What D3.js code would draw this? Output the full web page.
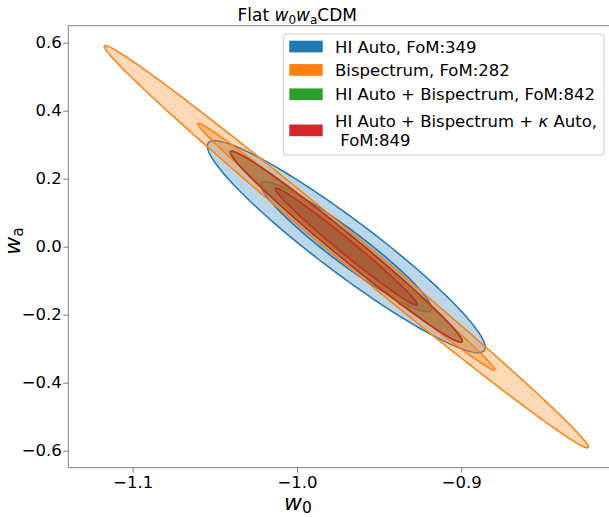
<!DOCTYPE html>
<html><head><meta charset="utf-8">
<script src="https://cdn.jsdelivr.net/npm/d3@7"></script>
<style>
html,body{margin:0;padding:0;background:#fff;}
svg{display:block;font-family:"DejaVu Sans",sans-serif;}
</style></head>
<body>
<svg id="chart" width="609" height="517"></svg>
<script>
// ---- data ----
const seriesNames = ["HI Auto, FoM:349", "Bispectrum, FoM:282", "HI Auto + Bispectrum, FoM:842", "HI Auto + Bispectrum + κ Auto, FoM:849"];
const seriesColors = ["#1f77b4", "#ff7f0e", "#2ca02c", "#d62728"];
const centerW0 = [-0.970, -0.970, -0.970, -0.970];
const centerWa = [0.0, 0.0, 0.0, 0.0];
const sigmaW0 = [0.0341, 0.0594, 0.02853, 0.02841];
const sigmaWa = [0.1257, 0.2386, 0.1136, 0.1131];
const rhoW0Wa = [-0.949, -0.9958, -0.9876, -0.9876];
const contourScale = [2.48, 1.52];
const xTicks = [-1.1, -1.0, -0.9];
const yTicks = [-0.6, -0.4, -0.2, 0.0, 0.2, 0.4, 0.6];

const svg = d3.select("#chart");
const pLeft = 68.3, pTop = 25.7, pBottom = 467.7;
const x = d3.scaleLinear().domain([-1.1392, -0.8]).range([pLeft, pLeft + 0.3392 * 1643]);
const y = d3.scaleLinear().domain([-0.65, 0.65]).range([pBottom, pTop]);

svg.append("defs").append("clipPath").attr("id", "clip")
  .append("rect").attr("x", pLeft).attr("y", pTop).attr("width", 700).attr("height", pBottom - pTop);

const plot = svg.append("g").attr("clip-path", "url(#clip)");

function ellipsePoints(i, k) {
  const pts = [];
  const n = 240;
  const s = Math.sqrt(1 - rhoW0Wa[i] * rhoW0Wa[i]);
  for (let j = 0; j <= n; j++) {
    const t = 2 * Math.PI * j / n;
    const u1 = Math.cos(t), u2 = Math.sin(t);
    const w0 = centerW0[i] + k * sigmaW0[i] * u1;
    const wa = centerWa[i] + k * sigmaWa[i] * (rhoW0Wa[i] * u1 + s * u2);
    pts.push([x(w0), y(wa)]);
  }
  return pts;
}
const line = d3.line().curve(d3.curveLinearClosed);

seriesNames.forEach((name, i) => {
  contourScale.forEach(k => {
    plot.append("path")
      .attr("d", line(ellipsePoints(i, k)))
      .attr("fill", seriesColors[i]).attr("fill-opacity", 0.3)
      .attr("stroke", seriesColors[i]).attr("stroke-width", 1.5);
  });
});

// axes frame
const spine = "#808080";
svg.append("line").attr("x1", pLeft).attr("x2", 609).attr("y1", pTop).attr("y2", pTop).attr("stroke", spine).attr("stroke-width", 1);
svg.append("line").attr("x1", pLeft).attr("x2", 609).attr("y1", pBottom).attr("y2", pBottom).attr("stroke", spine).attr("stroke-width", 1);
svg.append("line").attr("x1", pLeft).attr("x2", pLeft).attr("y1", pTop).attr("y2", pBottom).attr("stroke", spine).attr("stroke-width", 1);

const fmt = v => (v < 0 ? "\u2212" : "") + Math.abs(v).toFixed(1);

const xAxis = d3.axisBottom(x).tickValues(xTicks).tickSize(5).tickPadding(4).tickFormat(fmt);
const gx = svg.append("g").attr("transform", `translate(0,${pBottom})`).call(xAxis);
gx.select(".domain").remove();
gx.selectAll("line").attr("stroke", spine);
gx.selectAll("text").attr("font-size", 16.5).attr("fill", "#000").attr("font-family", "DejaVu Sans");

const yAxis = d3.axisLeft(y).tickValues(yTicks).tickSize(5).tickPadding(1.5).tickFormat(fmt);
const gy = svg.append("g").attr("transform", `translate(${pLeft},0)`).call(yAxis);
gy.select(".domain").remove();
gy.selectAll("line").attr("stroke", spine);
gy.selectAll("text").attr("font-size", 16.5).attr("fill", "#000").attr("font-family", "DejaVu Sans");

// title
const title = svg.append("text").attr("x", 297.2).attr("y", 20.7).attr("text-anchor", "middle").attr("font-size", 17);
title.append("tspan").text("Flat ");
title.append("tspan").attr("font-style", "italic").text("w");
title.append("tspan").attr("font-size", 12).attr("dy", 2.8).text("0");
title.append("tspan").attr("font-style", "italic").attr("dy", -2.8).text("w");
title.append("tspan").attr("font-size", 12).attr("dy", 2.8).text("a");
title.append("tspan").attr("dy", -2.8).text("CDM");

// x label
const xl = svg.append("text").attr("x", 298).attr("y", 510).attr("text-anchor", "middle").attr("font-size", 22);
xl.append("tspan").attr("font-style", "italic").text("w");
xl.append("tspan").attr("font-size", 15.5).attr("dy", 2.8).text("0");

// y label
const yl = svg.append("text").attr("transform", "translate(19.5,241) rotate(-90)").attr("text-anchor", "middle").attr("font-size", 22);
yl.append("tspan").attr("font-style", "italic").text("w");
yl.append("tspan").attr("font-size", 15.5).attr("dy", 3.5).text("a");

// legend
const lg = svg.append("g");
lg.append("rect").attr("x", 283.3).attr("y", 34).attr("width", 320.7).attr("height", 121)
  .attr("rx", 3).attr("fill", "#fff").attr("fill-opacity", 0.8).attr("stroke", "#cccccc").attr("stroke-width", 1);
const patchY = [46.5, 69.9, 94.2, 130.3];
seriesNames.forEach((name, i) => {
  lg.append("rect").attr("x", 289.3).attr("y", patchY[i] - 5.8).attr("width", 33.4).attr("height", 11.7).attr("fill", seriesColors[i]);
});
const legText = (ty, parts) => {
  const t = lg.append("text").attr("x", 335).attr("y", ty).attr("font-size", 16.5);
  parts.forEach(p => t.append("tspan").attr("font-style", p[1] ? "italic" : null).text(p[0]));
  return t;
};
// baselines
legText(52.6, [[seriesNames[0]]]);
legText(76.3, [[seriesNames[1]]]);
legText(100.2, [[seriesNames[2]]]);
legText(126.8, [["HI Auto + Bispectrum + "], ["κ", true], [" Auto,"]]);
legText(146.4, [["\u00a0FoM:849"]]);
</script>
</body></html>
